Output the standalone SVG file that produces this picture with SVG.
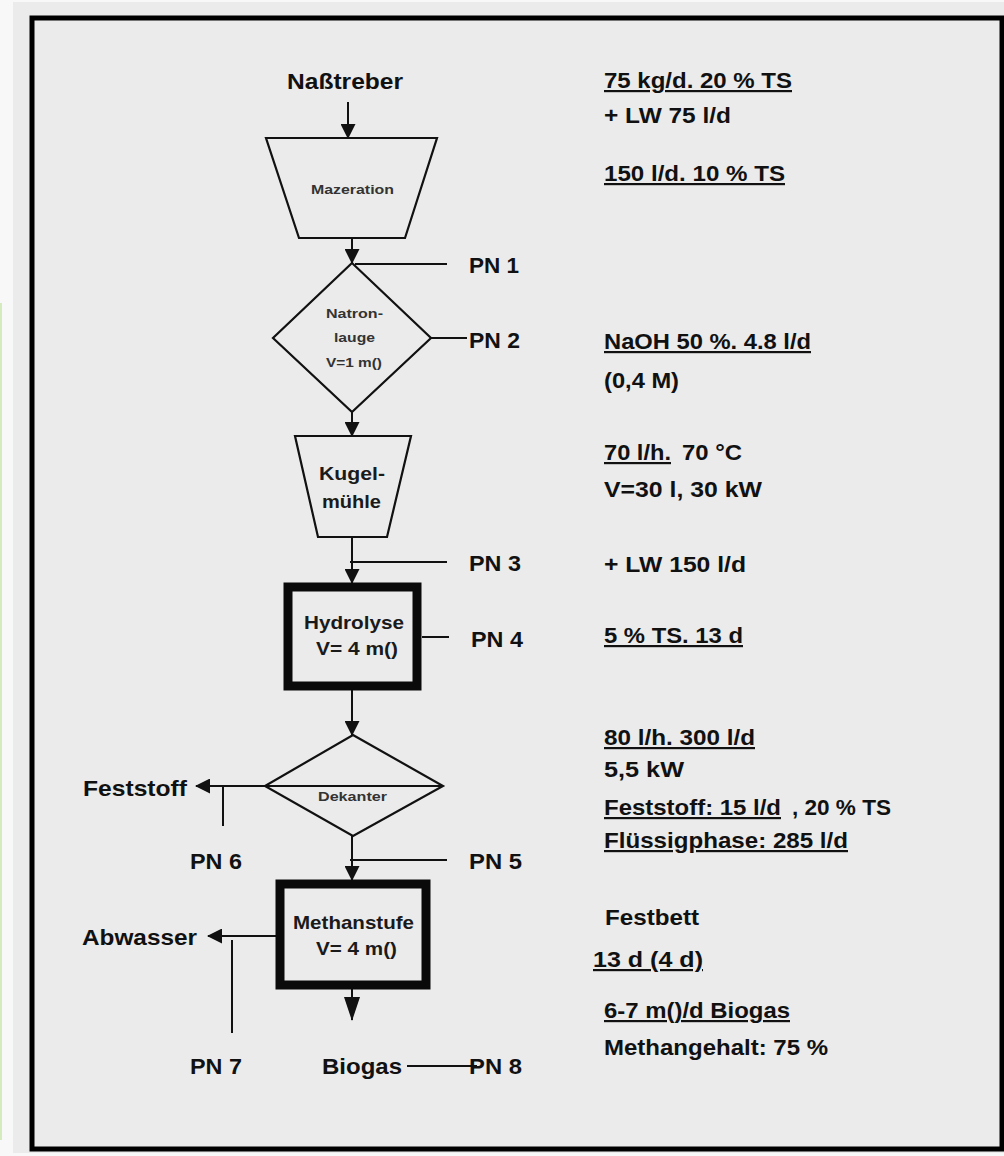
<svg xmlns="http://www.w3.org/2000/svg" width="1004" height="1156" viewBox="0 0 1004 1156">
  <defs>
    <style>
      .t { font-family: "Liberation Sans", Arial, Helvetica, sans-serif; font-weight: bold; font-size: 22px; fill: #111; }
      .u { text-decoration: underline; }
      .ns { font-size: 12px; fill: #333; }
      .nm { font-size: 19px; fill: #1a1a1a; }
      .shape { fill: none; stroke: #111; stroke-width: 2.2; stroke-linejoin: miter; }
      .box { fill: none; stroke: #0a0a0a; stroke-width: 9; }
      .conn line { stroke: #111; stroke-width: 2; }
      .flow { marker-end: url(#ah); }
    </style>
    <marker id="ah" viewBox="0 0 15 15" refX="14" refY="7.5" markerWidth="15" markerHeight="15" markerUnits="userSpaceOnUse" orient="auto">
      <path d="M0,0 L15,7.5 L0,15 z" fill="#111"/>
    </marker>
    <marker id="ahl" viewBox="0 0 24 16" refX="23" refY="8" markerWidth="24" markerHeight="16" markerUnits="userSpaceOnUse" orient="auto">
      <path d="M0,0 L24,8 L0,16 z" fill="#111"/>
    </marker>
  </defs>

  <!-- page and frame -->
  <rect x="0" y="0" width="1004" height="1156" fill="#f8f8f8"/>
  <rect x="13" y="2" width="991" height="1151" fill="#ebebeb"/>
  <line x1="1" y1="303" x2="1" y2="1140" stroke="#d3ebbd" stroke-width="2"/>
  <rect x="32" y="18" width="970" height="1131" fill="none" stroke="#000" stroke-width="5"/>

  <!-- connectors -->
  <g id="connectors" class="conn">
    <line class="flow" x1="348" y1="102" x2="348" y2="138"/>
    <line class="flow" x1="352" y1="238" x2="352" y2="263"/>
    <line x1="355" y1="264" x2="447" y2="264"/>
    <line x1="431" y1="338" x2="467" y2="338"/>
    <line class="flow" x1="352" y1="412" x2="352" y2="436"/>
    <line class="flow" x1="352" y1="537" x2="352" y2="583"/>
    <line x1="350" y1="562" x2="447" y2="562"/>
    <line x1="422" y1="637" x2="449" y2="637"/>
    <line class="flow" x1="352" y1="690" x2="352" y2="735"/>
    <line class="flow" x1="443" y1="786" x2="196" y2="786"/>
    <line x1="223" y1="786" x2="223" y2="826"/>
    <line class="flow" x1="352" y1="836" x2="352" y2="880"/>
    <line x1="350" y1="860" x2="447" y2="860"/>
    <line class="flow" x1="276" y1="936" x2="208" y2="936"/>
    <line x1="232" y1="940" x2="232" y2="1033"/>
    <line x1="352" y1="989" x2="352" y2="1020" marker-end="url(#ahl)"/>
    <line x1="407" y1="1066" x2="477" y2="1066"/>
  </g>

  <!-- process nodes -->
  <g id="nasstreber">
    <text class="t" x="287" y="89" textLength="116" lengthAdjust="spacingAndGlyphs">Naßtreber</text>
  </g>
  <g id="mazeration">
    <polygon class="shape" points="266,138 437,138 405,238 299,238"/>
    <text class="t ns" x="311" y="194" textLength="83" lengthAdjust="spacingAndGlyphs">Mazeration</text>
  </g>
  <g id="natronlauge">
    <polygon class="shape" points="352,263 431,338 352,412 273,338"/>
    <text class="t ns" x="326" y="318" textLength="57" lengthAdjust="spacingAndGlyphs">Natron-</text>
    <text class="t ns" x="334" y="342" textLength="41" lengthAdjust="spacingAndGlyphs">lauge</text>
    <text class="t ns" x="326" y="367" textLength="56" lengthAdjust="spacingAndGlyphs">V=1 m()</text>
  </g>
  <g id="kugelmuehle">
    <polygon class="shape" points="295,436 411,436 387,537 318,537"/>
    <text class="t nm" x="319" y="480" textLength="66" lengthAdjust="spacingAndGlyphs">Kugel-</text>
    <text class="t nm" x="322" y="508" textLength="59" lengthAdjust="spacingAndGlyphs">mühle</text>
  </g>
  <g id="hydrolyse">
    <rect class="box" x="288" y="587" width="129" height="99"/>
    <text class="t nm" x="304" y="629" textLength="100" lengthAdjust="spacingAndGlyphs">Hydrolyse</text>
    <text class="t nm" x="316" y="655" textLength="82" lengthAdjust="spacingAndGlyphs">V= 4 m()</text>
  </g>
  <g id="dekanter">
    <polygon class="shape" points="353,735 443,786 353,836 265,786"/>
    <text class="t ns" x="318" y="801" textLength="69" lengthAdjust="spacingAndGlyphs">Dekanter</text>
  </g>
  <g id="methanstufe">
    <rect class="box" x="280" y="884" width="146" height="101"/>
    <text class="t nm" x="293" y="929" textLength="121" lengthAdjust="spacingAndGlyphs">Methanstufe</text>
    <text class="t nm" x="316" y="955" textLength="81" lengthAdjust="spacingAndGlyphs">V= 4 m()</text>
  </g>
  <g id="feststoff">
    <text class="t" x="83" y="796" textLength="104" lengthAdjust="spacingAndGlyphs">Feststoff</text>
  </g>
  <g id="abwasser">
    <text class="t" x="82" y="945" textLength="115" lengthAdjust="spacingAndGlyphs">Abwasser</text>
  </g>
  <g id="biogas">
    <text class="t" x="322" y="1074" textLength="80" lengthAdjust="spacingAndGlyphs">Biogas</text>
  </g>

  <!-- sampling points -->
  <g id="pn1"><text class="t" x="469" y="273" textLength="50" lengthAdjust="spacingAndGlyphs">PN 1</text></g>
  <g id="pn2"><text class="t" x="469" y="348" textLength="51" lengthAdjust="spacingAndGlyphs">PN 2</text></g>
  <g id="pn3"><text class="t" x="469" y="571" textLength="52" lengthAdjust="spacingAndGlyphs">PN 3</text></g>
  <g id="pn4"><text class="t" x="471" y="647" textLength="52" lengthAdjust="spacingAndGlyphs">PN 4</text></g>
  <g id="pn5"><text class="t" x="469" y="869" textLength="53" lengthAdjust="spacingAndGlyphs">PN 5</text></g>
  <g id="pn6"><text class="t" x="190" y="869" textLength="52" lengthAdjust="spacingAndGlyphs">PN 6</text></g>
  <g id="pn7"><text class="t" x="190" y="1074" textLength="52" lengthAdjust="spacingAndGlyphs">PN 7</text></g>
  <g id="pn8"><text class="t" x="469" y="1074" textLength="53" lengthAdjust="spacingAndGlyphs">PN 8</text></g>

  <!-- process data -->
  <g id="data">
    <text class="t u" x="604" y="88" textLength="188" lengthAdjust="spacingAndGlyphs">75 kg/d. 20 % TS</text>
    <text class="t" x="604" y="123" textLength="127" lengthAdjust="spacingAndGlyphs">+ LW 75 l/d</text>
    <text class="t u" x="604" y="181" textLength="181" lengthAdjust="spacingAndGlyphs">150 l/d. 10 % TS</text>
    <text class="t u" x="604" y="349" textLength="207" lengthAdjust="spacingAndGlyphs">NaOH 50 %. 4.8 l/d</text>
    <text class="t" x="604" y="388" textLength="75" lengthAdjust="spacingAndGlyphs">(0,4 M)</text>
    <text class="t u" x="604" y="460" textLength="67" lengthAdjust="spacingAndGlyphs">70 l/h.</text>
    <text class="t" x="682" y="460" textLength="60" lengthAdjust="spacingAndGlyphs">70 °C</text>
    <text class="t" x="604" y="497" textLength="158" lengthAdjust="spacingAndGlyphs">V=30 l, 30 kW</text>
    <text class="t" x="604" y="572" textLength="142" lengthAdjust="spacingAndGlyphs">+ LW 150 l/d</text>
    <text class="t u" x="604" y="643" textLength="139" lengthAdjust="spacingAndGlyphs">5 % TS. 13 d</text>
    <text class="t u" x="604" y="745" textLength="151" lengthAdjust="spacingAndGlyphs">80 l/h. 300 l/d</text>
    <text class="t" x="604" y="777" textLength="80" lengthAdjust="spacingAndGlyphs">5,5 kW</text>
    <text class="t u" x="604" y="815" textLength="177" lengthAdjust="spacingAndGlyphs">Feststoff: 15 l/d</text>
    <text class="t" x="792" y="815" textLength="99" lengthAdjust="spacingAndGlyphs">, 20 % TS</text>
    <text class="t u" x="604" y="848" textLength="244" lengthAdjust="spacingAndGlyphs">Flüssigphase: 285 l/d</text>
    <text class="t" x="605" y="925" textLength="94" lengthAdjust="spacingAndGlyphs">Festbett</text>
    <text class="t u" x="593" y="967" textLength="110" lengthAdjust="spacingAndGlyphs">13 d (4 d)</text>
    <text class="t u" x="604" y="1018" textLength="186" lengthAdjust="spacingAndGlyphs">6-7 m()/d Biogas</text>
    <text class="t" x="604" y="1055" textLength="224" lengthAdjust="spacingAndGlyphs">Methangehalt: 75 %</text>
  </g>
</svg>
